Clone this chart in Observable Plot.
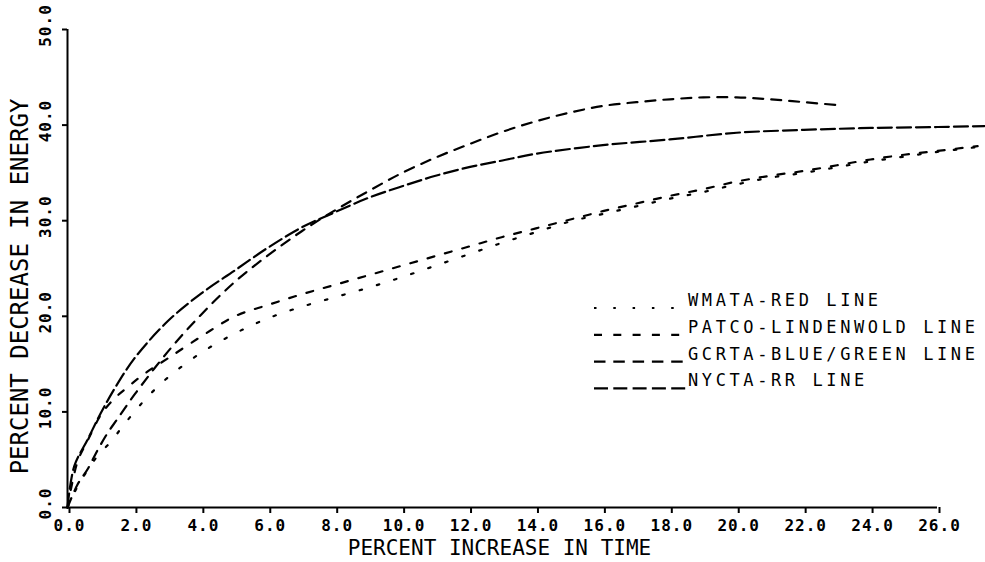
<!DOCTYPE html>
<html><head><meta charset="utf-8">
<script src="https://cdn.jsdelivr.net/npm/d3@7"></script>
<script src="https://cdn.jsdelivr.net/npm/@observablehq/plot@0.6"></script>
<style>
html,body{margin:0;padding:0;background:#fff;}
#chart{width:985px;height:562px;overflow:hidden;}
</style></head><body><div id="chart"></div>
<script>
// ---- data ----
const xTicks = [0, 2, 4, 6, 8, 10, 12, 14, 16, 18, 20, 22, 24, 26];
const yTicks = [0, 10, 20, 30, 40, 50];
const xLabel = "PERCENT INCREASE IN TIME";
const yLabel = "PERCENT DECREASE IN ENERGY";
const seriesNames = ["WMATA-RED LINE", "PATCO-LINDENWOLD LINE", "GCRTA-BLUE/GREEN LINE", "NYCTA-RR LINE"];

const wmataX = [0, 0.3, 0.6, 0.9, 1.3, 1.65, 2, 2.4, 3, 4, 5, 6, 7, 8, 9, 10, 11, 12, 13, 14, 15, 16, 17, 18, 19, 20, 21, 22, 23, 24, 25, 26, 27.2];
const wmataY = [0, 2.2, 3.9, 5.4, 6.9, 8.5, 10.0, 11.6, 13.6, 16.2, 18.2, 19.8, 21.0, 22.0, 23.0, 24.1, 25.3, 26.5, 27.7, 28.8, 29.9, 30.7, 31.5, 32.3, 33.0, 33.8, 34.5, 35.0, 35.6, 36.2, 36.7, 37.2, 37.7];

const patcoX = [0, 0.3, 0.6, 1, 1.4, 1.8, 2.3, 3, 4, 5, 6, 7, 8, 9, 10, 11, 12, 13, 14, 15, 16, 17, 18, 19, 20, 21, 22, 23, 24, 25, 26, 27.2];
const patcoY = [0, 4.8, 7.0, 9.7, 11.4, 12.6, 14.0, 15.6, 17.9, 20.0, 21.2, 22.3, 23.3, 24.3, 25.3, 26.3, 27.3, 28.3, 29.2, 30.1, 31.0, 31.8, 32.6, 33.3, 34.1, 34.7, 35.2, 35.8, 36.4, 36.9, 37.3, 37.8];

const gcrtaX = [0, 0.3, 0.6, 0.9, 1.2, 1.5, 2, 3, 4, 5, 6, 7, 8, 9, 10, 11, 12, 13, 14, 15, 16, 17, 18, 19, 20, 21, 22, 23];
const gcrtaY = [0, 2.4, 4.0, 6.0, 7.8, 9.3, 11.8, 16.3, 20.2, 23.6, 26.4, 28.9, 31.1, 33.1, 35.0, 36.6, 38.0, 39.3, 40.4, 41.3, 42.0, 42.4, 42.7, 42.9, 42.9, 42.7, 42.4, 42.1];

const nyctaX = [0, 0.2, 0.6, 1, 1.4, 2, 3, 4, 5, 6, 7, 8, 9, 10, 11, 12, 13, 14, 16, 18, 20, 22, 24, 26, 27.4];
const nyctaY = [0, 4.3, 7.1, 9.9, 12.4, 15.6, 19.5, 22.4, 24.8, 27.2, 29.3, 30.9, 32.4, 33.6, 34.7, 35.6, 36.3, 37.0, 37.9, 38.5, 39.2, 39.5, 39.7, 39.8, 39.9];

// ---- styles ----
const dashStyles = ["2.5 15.5", "7 11", "10 8", "14 5"];
const legendDash = ["2.5 16.8", "8 11.3", "11.5 7.8", "14 5.3"];
const mono = "'DejaVu Sans Mono', monospace";

const seriesXs = [wmataX, patcoX, gcrtaX, nyctaX];
const seriesYs = [wmataY, patcoY, gcrtaY, nyctaY];
const table = seriesNames.map((name, i) => seriesXs[i].map((x, j) => ({series: name, x, y: seriesYs[i][j]})));

const lineMarks = table.map((rows, i) => Plot.line(rows, {
  x: "x", y: "y", stroke: "black", strokeWidth: 2.2,
  strokeDasharray: dashStyles[i], curve: "catmull-rom"
}));

const chart = Plot.plot({
  width: 985, height: 562,
  marginLeft: 67, marginRight: 48, marginTop: 29, marginBottom: 55,
  style: {background: "#fff", color: "#000", fontFamily: mono, fontSize: "15px"},
  x: {domain: [0, 26], axis: null},
  y: {domain: [0, 50], axis: null},
  marks: [
    Plot.ruleX([0], {stroke: "black", strokeWidth: 2}),
    Plot.ruleY([0], {stroke: "black", strokeWidth: 2}),
    Plot.axisX({ticks: xTicks, tickSize: 6, tickPadding: 6, strokeWidth: 2,
      tickFormat: d => d.toFixed(1), fontSize: 16, fontWeight: "bold", dx: 2, label: null}),
    Plot.axisY({ticks: yTicks, tickSize: 5, strokeWidth: 2, fill: "none", label: null}),
    Plot.axisY({ticks: yTicks, tickSize: 5, tickPadding: 12, stroke: "none", tickRotate: -90,
      tickFormat: d => d.toFixed(1), fontSize: 16, fontWeight: "bold", dy: -4, label: null}),
    Plot.text([xLabel], {frameAnchor: "bottom", lineAnchor: "middle", textAnchor: "middle",
      text: d => d, dy: 41, dx: -3, fontSize: 21}),
    Plot.text([yLabel], {frameAnchor: "left", lineAnchor: "middle", textAnchor: "middle",
      text: d => d, rotate: -90, dx: -47, dy: 18, fontSize: 24}),
    ...lineMarks
  ]
});

document.getElementById("chart").appendChild(chart);

const svg = d3.select(chart);
svg.selectAll('g[aria-label*="tick label"] text')
  .style("font-size", "16px").style("font-weight", "bold")
  .style("font-family", mono).style("letter-spacing", "1px");

// ---- legend ----
const lg = svg.append("g").attr("class", "legend");
const lx0 = 594, lx1 = 686, ly0 = 308, lstep = 26.8;
seriesNames.forEach((name, i) => {
  const y = ly0 + i * lstep;
  lg.append("line")
    .attr("x1", lx0).attr("x2", lx1).attr("y1", y).attr("y2", y)
    .attr("stroke", "black").attr("stroke-width", 2.2)
    .attr("stroke-dasharray", legendDash[i]);
  lg.append("text")
    .attr("x", lx1 + 2).attr("y", y - 2)
    .attr("text-anchor", "start")
    .attr("font-family", mono).attr("font-size", 17)
    .attr("letter-spacing", 3.6)
    .attr("fill", "black")
    .text(name);
});
</script></body></html>
